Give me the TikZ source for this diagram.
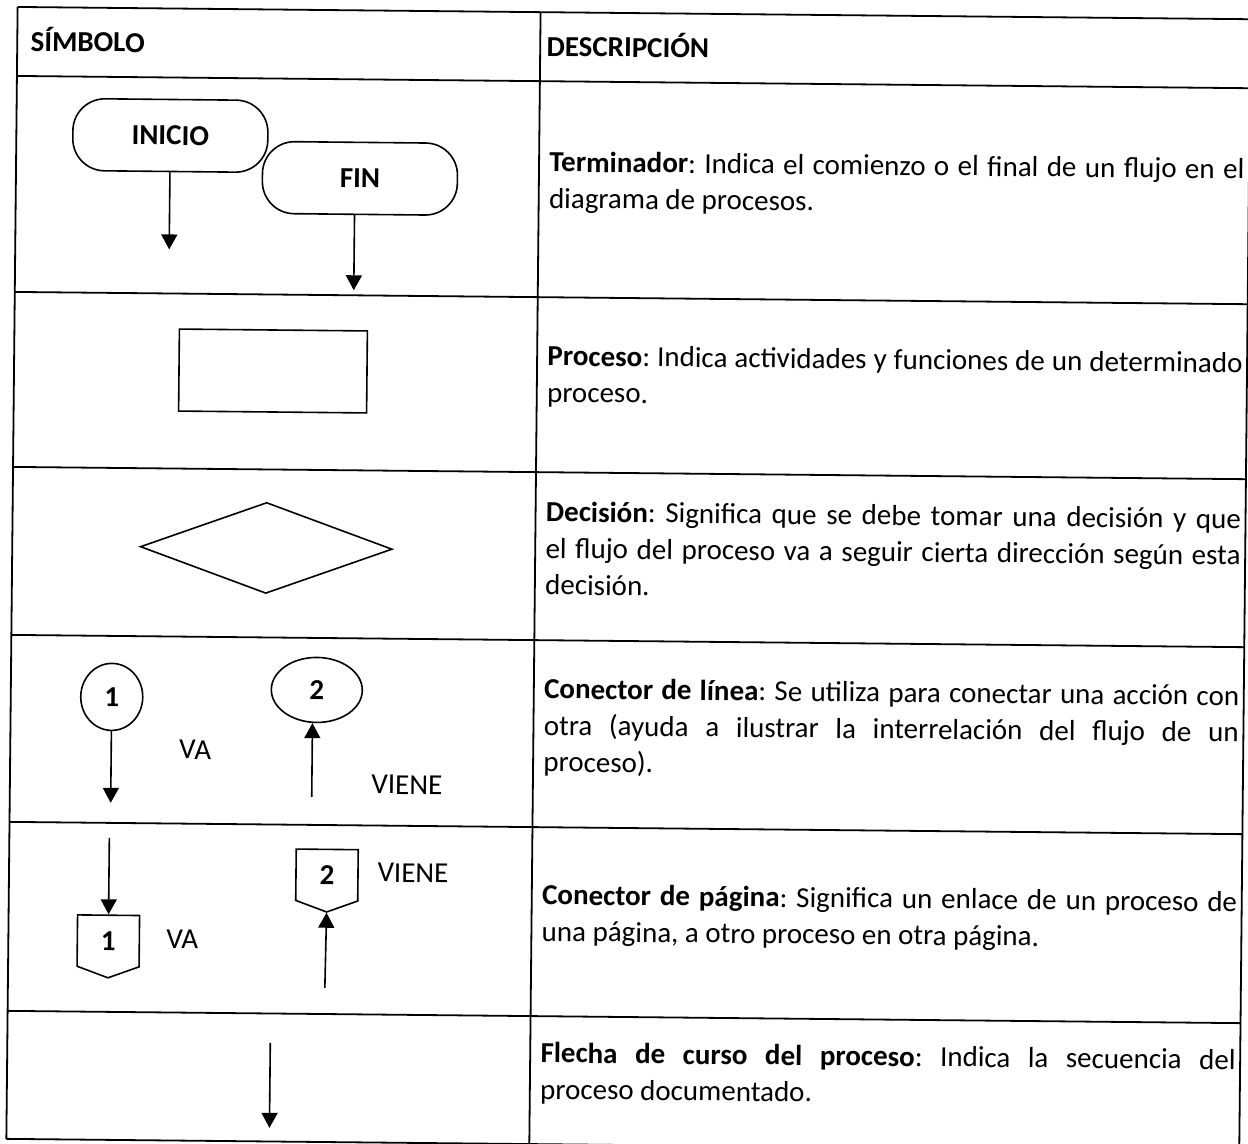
\documentclass[tikz,border=0pt]{standalone}
\usepackage{fontspec}
\setmainfont{Carlito}
\usepackage{tikz}
\usetikzlibrary{positioning, shapes.geometric, shapes.symbols, arrows.meta}

\newcommand{\letra}{\fontsize{14.5}{18.25}\selectfont\frenchspacing}
\newcommand{\renglon}[1]{\makebox[347.5pt][s]{#1}}

\tikzset{
  linea/.style={line width=0.9pt},
  terminal/.style={draw, line width=0.8pt, rounded corners=16pt, minimum width=97.5pt, minimum height=36pt, font=\letra\bfseries},
  proceso/.style={draw, line width=0.8pt, minimum width=94pt, minimum height=41pt},
  decision/.style={draw, diamond, line width=0.8pt, minimum width=126pt, minimum height=45.5pt, inner sep=0pt},
  conector/.style={draw, ellipse, line width=0.8pt, inner sep=0pt, font=\letra\bfseries},
  pagina/.style={draw, signal, signal to=south, signal pointer angle=140, line width=0.8pt, minimum width=31pt, minimum height=27pt, inner sep=0pt, font=\letra\bfseries},
  flecha/.style={line width=0.8pt, -{Triangle[width=8pt,length=7.5pt]}},
  celda/.style={anchor=north west, inner sep=0pt, align=left},
  titulo/.style={anchor=base west, inner sep=0pt, font=\letra\bfseries},
  rotulo/.style={inner sep=0pt}
}

\begin{document}
\begin{tikzpicture}[x=0.5pt, y=-0.5pt, font=\letra]
\useasboundingbox (0,0) rectangle (1248,1144);
\begin{scope}[rotate around={-0.57:(624,572)}, transform shape]

% Tabla
\foreach \y in {13,82,298,473,641,828,1017,1145}
  \draw[linea] (12,\y) -- (1245,\y);
\foreach \x in {12,535,1245}
  \draw[linea] (\x,13) -- (\x,1145);

% Encabezados
\node[titulo] (simbolo) at (25,57) {SÍMBOLO};
\node[titulo] (descripcion) at (541,57) {DESCRIPCIÓN};

% Terminador
\node[terminal] (inicio) at (166,140) {INICIO};
\node[terminal] (fin) at (356,181) {FIN};
\coordinate (inicioFin) at (166,254);
\coordinate (finFin) at (351,293);
\draw[flecha] (inicio) -- (inicioFin);
\draw[flecha] (fin.south -| finFin) -- (finFin);

% Proceso y decision
\node[proceso] (proceso) at (271,374.5) {};
\node[decision] (decision) at (266,551.5) {};

% Conector de linea
\node[conector, minimum width=31pt, minimum height=33.5pt] (linea1) at (113,702) {\raisebox{-2pt}{1}};
\node[conector, minimum width=45.5pt, minimum height=32.5pt] (linea2) at (318,693) {\raisebox{-3pt}{2}};
\coordinate (lineaVa) at (113,808);
\coordinate (lineaViene) at (314,800);
\draw[flecha] (linea1) -- (lineaVa);
\draw[flecha] (lineaViene) -- (lineaViene |- linea2.south);
\node[rotulo] (va1) at (197,754) {VA};
\node[rotulo] (viene1) at (409,787) {VIENE};

% Conector de pagina
\node[pagina] (pagina1) at (112,946) {1};
\node[pagina] (pagina2) at (330,878) {2};
\coordinate (paginaVa) at (112,843);
\coordinate (paginaViene) at (329,991);
\draw[flecha] (paginaVa) -- (pagina1.north);
\draw[flecha] (paginaViene) -- (pagina2.south);
\node[rotulo] (va2) at (186,944) {VA};
\node[rotulo] (viene2) at (416,875) {VIENE};

% Flecha de curso
\coordinate (cursoIni) at (275,1046.5);
\coordinate (cursoFin) at (275,1131.5);
\draw[flecha] (cursoIni) -- (cursoFin);

% Descripciones
\node[celda] (terminador) at (545,146.5) {\strut\renglon{\textbf{Terminador}: Indica el comienzo o el final de un flujo en el}\\ diagrama de procesos.};
\node[celda] (txtproceso) at (545,340.5) {\strut\renglon{\textbf{Proceso}: Indica actividades y funciones de un determinado}\\ proceso.};
\node[celda] (txtdecision) at (545,496.5) {\strut\renglon{\textbf{Decisión}: Significa que se debe tomar una decisión y que}\\ \renglon{el flujo del proceso va a seguir cierta dirección según esta}\\ decisión.};
\node[celda] (txtlinea) at (545,673.5) {\strut\renglon{\textbf{Conector de línea}: Se utiliza para conectar una acción con}\\ \renglon{otra (ayuda a ilustrar la interrelación del flujo de un}\\ proceso).};
\node[celda] (txtpagina) at (545,879.5) {\strut\renglon{\textbf{Conector de página}: Significa un enlace de un proceso de}\\ una página, a otro proceso en otra página.};
\node[celda] (txtcurso) at (545,1037.5) {\strut\renglon{\textbf{Flecha de curso del proceso}: Indica la secuencia del}\\ proceso documentado.};

\end{scope}
\end{tikzpicture}
\end{document}
